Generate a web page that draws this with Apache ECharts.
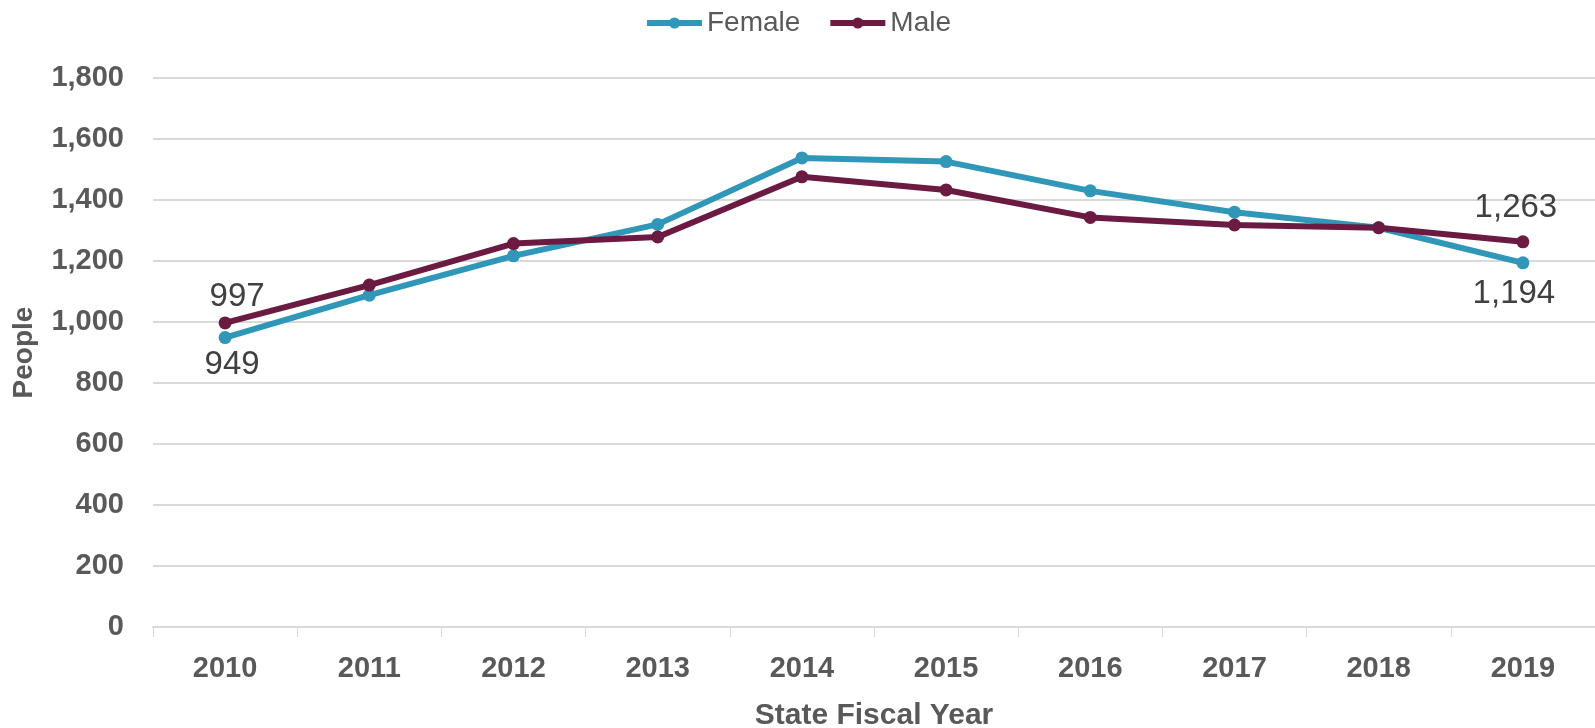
<!DOCTYPE html>
<html>
<head>
<meta charset="utf-8">
<script src="https://cdn.jsdelivr.net/npm/echarts@6/dist/echarts.min.js"></script>
<style>
  html, body { margin: 0; padding: 0; background: #fff; }
  #chart { width: 1595px; height: 728px; }
</style>
</head>
<body>
<div id="chart"></div>
<script>
const years = ['2010', '2011', '2012', '2013', '2014', '2015', '2016', '2017', '2018', '2019']
const female = [949, 1088, 1217, 1320, 1538, 1526, 1430, 1360, 1309, 1194]
const male = [997, 1121, 1257, 1279, 1476, 1433, 1343, 1318, 1309, 1263]

const FEMALE_COLOR = '#3097B9'
const MALE_COLOR = '#6B1A41'

const fmt = (v) => Number(v).toLocaleString('en-US')

// only first and last points carry a value label
const withLabels = (values, pos, offFirst, offLast) =>
  values.map((v, i) => {
    if (i === 0 || i === values.length - 1) {
      return {
        value: v,
        label: {
          show: true,
          position: pos,
          distance: i === 0 ? 6 : 14,
          offset: i === 0 ? offFirst : offLast,
          formatter: (p) => fmt(p.value),
          fontFamily: 'Liberation Sans',
          fontSize: 33,
          color: '#404040',
        },
      }
    }
    return v
  })

const chart = echarts.init(document.getElementById('chart'))

const option = {
  backgroundColor: '#fff',
  animation: false,
  legend: {
    top: 4,
    left: 'center',
    itemWidth: 55,
    itemHeight: 14,
    itemGap: 27,
    lineStyle: { width: 6 },
    textStyle: {
      fontFamily: 'Liberation Sans',
      fontSize: 28,
      color: '#595959',
    },
    data: ['Female', 'Male'],
  },
  grid: {
    left: 153,
    right: 0,
    top: 78,
    bottom: 101,
    containLabel: false,
    outerBoundsMode: 'none',
  },
  xAxis: {
    type: 'category',
    data: years,
    boundaryGap: true,
    name: 'State Fiscal Year',
    nameLocation: 'middle',
    nameGap: 74,
    nameTextStyle: {
      fontFamily: 'Liberation Sans',
      fontWeight: 'bold',
      fontSize: 30,
      color: '#595959',
    },
    axisLine: { lineStyle: { color: '#D9D9D9', width: 2 } },
    axisTick: { show: true, length: 10, interval: 0, lineStyle: { color: '#D9D9D9', width: 1 } },
    axisLabel: {
      margin: 27,
      fontFamily: 'Liberation Sans',
      fontWeight: 'bold',
      fontSize: 29,
      color: '#595959',
    },
  },
  yAxis: {
    type: 'value',
    min: 0,
    max: 1800,
    interval: 200,
    name: 'People',
    nameLocation: 'middle',
    nameGap: 115,
    nameTextStyle: {
      fontFamily: 'Liberation Sans',
      fontWeight: 'bold',
      fontSize: 28,
      color: '#595959',
    },
    axisLine: { show: false },
    axisTick: { show: false },
    axisLabel: {
      margin: 29,
      fontFamily: 'Liberation Sans',
      fontWeight: 'bold',
      fontSize: 29,
      color: '#595959',
      formatter: (v) => fmt(v),
    },
    splitLine: { lineStyle: { color: '#D9D9D9', width: 2 } },
  },
  series: [
    {
      name: 'Female',
      type: 'line',
      data: withLabels(female, 'bottom', [7, -2], [-9, -6]),
      symbol: 'circle',
      symbolSize: 13,
      lineStyle: { color: FEMALE_COLOR, width: 6 },
      itemStyle: { color: FEMALE_COLOR },
      z: 2,
    },
    {
      name: 'Male',
      type: 'line',
      data: withLabels(male, 'top', [12, 3], [-7, 3]),
      symbol: 'circle',
      symbolSize: 13,
      lineStyle: { color: MALE_COLOR, width: 6 },
      itemStyle: { color: MALE_COLOR },
      z: 3,
    },
  ],
}

chart.setOption(option)
</script>
</body>
</html>
